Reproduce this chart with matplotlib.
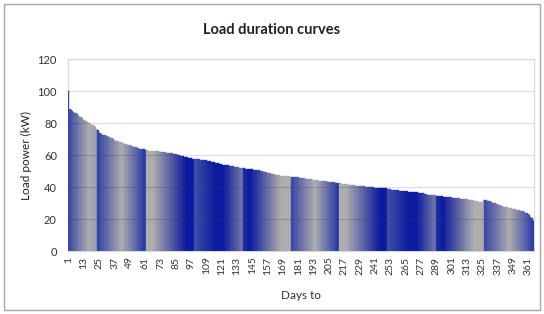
import matplotlib
matplotlib.use("Agg")
import matplotlib.pyplot as plt
import numpy as np
from matplotlib.colors import LinearSegmentedColormap
from matplotlib.patches import Rectangle

# ---------------- data ----------------
load_kw = [
    100,
    88.5, 88, 87.5, 87,
    86.5, 86, 85.5,
    85, 84, 83.5,
    83, 82, 81.5,
    81, 80.5, 80, 79.5,
    79, 78.5, 78, 77.5,
    76.5, 75.5,
    74, 73.5,
    73, 72.8, 72.5, 72.2, 72,
    71.5, 71, 70.8, 70.5, 70,
    69.5, 69, 68.8, 68.5, 68.2,
    68, 67.5, 67.2, 67, 66.8, 66.5,
    66.2, 66, 65.8, 65.5, 65.3, 65, 64.8, 64.5,
    64.3, 64, 63.8, 63.6, 63.5, 63.4,
    63, 62.9, 62.8, 62.7, 62.6, 62.5, 62.5, 62.4, 62.3,
    62.2, 62.1, 62, 61.9, 61.8, 61.7, 61.6, 61.5, 61.4, 61.3, 61.2,
    61, 60.8, 60.6, 60.4, 60.2, 60,
    59.8, 59.6, 59.4, 59.2, 59, 58.8, 58.6, 58.4,
    58.2, 58, 57.8, 57.6,
    57.5, 57.4, 57.3, 57.2, 57.1, 57, 56.9, 56.8, 56.7, 56.6, 56.4,
    56.2, 56, 55.8, 55.6, 55.4,
    55.2, 55, 54.8, 54.6, 54.4,
    54.2, 54, 53.9, 53.8, 53.6, 53.5, 53.4, 53.2, 53.1, 53,
    52.8, 52.6, 52.4, 52.2, 52, 51.9, 51.8, 51.7,
    51.6, 51.5, 51.4, 51.3, 51.2, 51.1, 51, 50.9, 50.8, 50.6, 50.5, 50.4, 50.2,
    50, 49.8, 49.6, 49.4, 49.2, 49, 48.8, 48.6,
    48.4, 48.2, 48, 47.8, 47.6, 47.4, 47.2, 47,
    46.9, 46.8, 46.8, 46.7, 46.7, 46.6, 46.6, 46.5,
    46.5, 46.4, 46.3, 46.2, 46.1, 46, 45.9, 45.8,
    45.6, 45.5, 45.4, 45.3, 45.2, 45.1, 45, 44.8, 44.6, 44.4,
    44.3, 44.2, 44.1, 44, 44, 43.9, 43.8, 43.7, 43.6, 43.5, 43.4,
    43.3, 43.2, 43.1, 43, 42.9, 42.8, 42.7, 42.6, 42.4, 42.2,
    42, 41.9, 41.8, 41.7, 41.6, 41.5, 41.4, 41.3, 41.2, 41.1, 41, 40.9, 40.8,
    40.7, 40.6, 40.6, 40.5, 40.5, 40.4, 40.3, 40.2, 40.1,
    40, 39.9, 39.8, 39.7, 39.6, 39.5, 39.5, 39.4, 39.4, 39.3, 39.3, 39.2, 39.2, 39.1,
    38.8, 38.6, 38.5, 38.4, 38.3, 38.2, 38.1, 38, 37.9, 37.8, 37.7,
    37.6, 37.5, 37.4, 37.3, 37.2, 37.1, 37.1, 37, 37, 36.9, 36.8, 36.7,
    36.6, 36.5, 36.4, 36.3, 36.2, 36.1, 35.8, 35.4,
    35.3, 35.2, 35.1, 35, 34.9, 34.8, 34.7, 34.6, 34.5,
    34.4, 34.3, 34.2, 34.1, 34, 34, 33.9, 33.8, 33.7, 33.6,
    33.5, 33.4, 33.3, 33.2, 33.1, 33, 32.9, 32.8, 32.7, 32.6,
    32.4, 32.3, 32.2, 32.1, 32, 31.9, 31.8, 31.7,
    31.5, 31.3, 31.1, 30.9, 30.7, 30.6, 30.5,
    32, 31.8, 31.6, 31.4, 31.2, 31,
    30.6, 30.3, 30, 29.7, 29.4, 29.1, 28.8, 28.5,
    28.2, 28, 27.8, 27.6, 27.4, 27.2, 27, 26.8,
    26.6, 26.4, 26.2, 26, 25.8, 25.6, 25.4, 25.2,
    25, 24.7, 24.4, 24, 23.6,
    23, 22.3, 21.5, 20.5, 19,
]
days = list(range(1, len(load_kw) + 1))
tick_days = list(range(1, len(load_kw) + 1, 12))
y_ticks = [0, 20, 40, 60, 80, 100, 120]

title = "Load duration curves"
x_label = "Days to"
y_label = "Load power (kW)"

# ---------------- style: gradient fill bands ----------------
DARK = "#0b1a9e"
MID = "#3444a6"
GREY = "#adadad"
LIGHT = "#7278aa"
band_edges = [0, 23.5, 61.1, 98.7, 136.8, 174.6, 212.4, 250.3, 288.0, 325.6, 366]
band_A = [(0, MID), (0.5, GREY), (0.92, "#3a48a8"), (1, "#2030a2")]
band_B = [(0, GREY), (0.15, GREY), (0.85, DARK), (1, DARK)]
band_C = [(0, "#4050a8"), (0.45, DARK), (0.6, DARK), (1, LIGHT)]
band_D = [(0, "#2232a2"), (0.15, DARK), (0.8, GREY), (1, GREY)]
band_0 = [(0, MID), (0.7, GREY), (1, "#9a9cb0")]
band_stops = [band_0, band_A, band_B, band_C, band_D, band_A, band_B, band_C, band_D, band_A]
band_maps = [LinearSegmentedColormap.from_list("b%d" % i, s) for i, s in enumerate(band_stops)]


def bar_color(pos):
    for i in range(len(band_edges) - 1):
        a, b = band_edges[i], band_edges[i + 1]
        if a <= pos < b:
            return band_maps[i]((pos - a) / (b - a))
    return band_maps[-1](1.0)


x = np.array(days, dtype=float)
vals = np.array(load_kw, dtype=float)
colors = [bar_color(d - 0.5) for d in days]

# ---------------- figure ----------------
plt.rcParams["font.family"] = ["Lato", "DejaVu Sans"]
fig = plt.figure(figsize=(5.44, 3.14), dpi=100)
fig.patches.append(Rectangle((0.008, 0.012), 0.984, 0.976, transform=fig.transFigure,
                             fill=False, edgecolor="#a6a6a6", linewidth=1.0))
ax = fig.add_axes([68 / 544, 1 - 251 / 314, (534 - 68) / 544, (251 - 59) / 314])

for s in ["left", "top", "right", "bottom"]:
    ax.spines[s].set_color("#d9d9d9")
    ax.spines[s].set_linewidth(0.9)
    ax.spines[s].set_zorder(1)

ax.bar(x, vals, width=1.0, color=colors, edgecolor=colors, linewidth=0.25, zorder=3)

ax.set_xlim(0.5, len(load_kw) + 0.5)
ax.set_ylim(0, 120)
ax.set_yticks(y_ticks)
ax.set_xticks(tick_days)
ax.set_xticklabels([str(t) for t in tick_days], rotation=90, fontsize=7.5, color="#333333")
ax.set_yticklabels([str(t) for t in y_ticks], fontsize=8, color="#333333")
ax.tick_params(axis="both", length=0)
ax.tick_params(axis="y", pad=8)
ax.tick_params(axis="x", pad=4)

for v in y_ticks[1:]:
    ax.axhline(v, color="#e0e0e0", linewidth=0.9, zorder=1)
    covered = x[vals >= v]
    if len(covered):
        ax.hlines(v, 0.5, covered.max() + 0.5, color="#444444", linewidth=0.7,
                  alpha=0.3, zorder=4)

ax.set_ylabel(y_label, fontsize=8.5, color="#222222", labelpad=4)
ax.set_xlabel(x_label, fontsize=8.5, color="#333333", labelpad=11)
fig.text(0.5, 1 - 30 / 314, title, ha="center", va="center", fontsize=10.5,
         fontweight="bold", color="#222222")

fig.savefig("out.png", dpi=100)
